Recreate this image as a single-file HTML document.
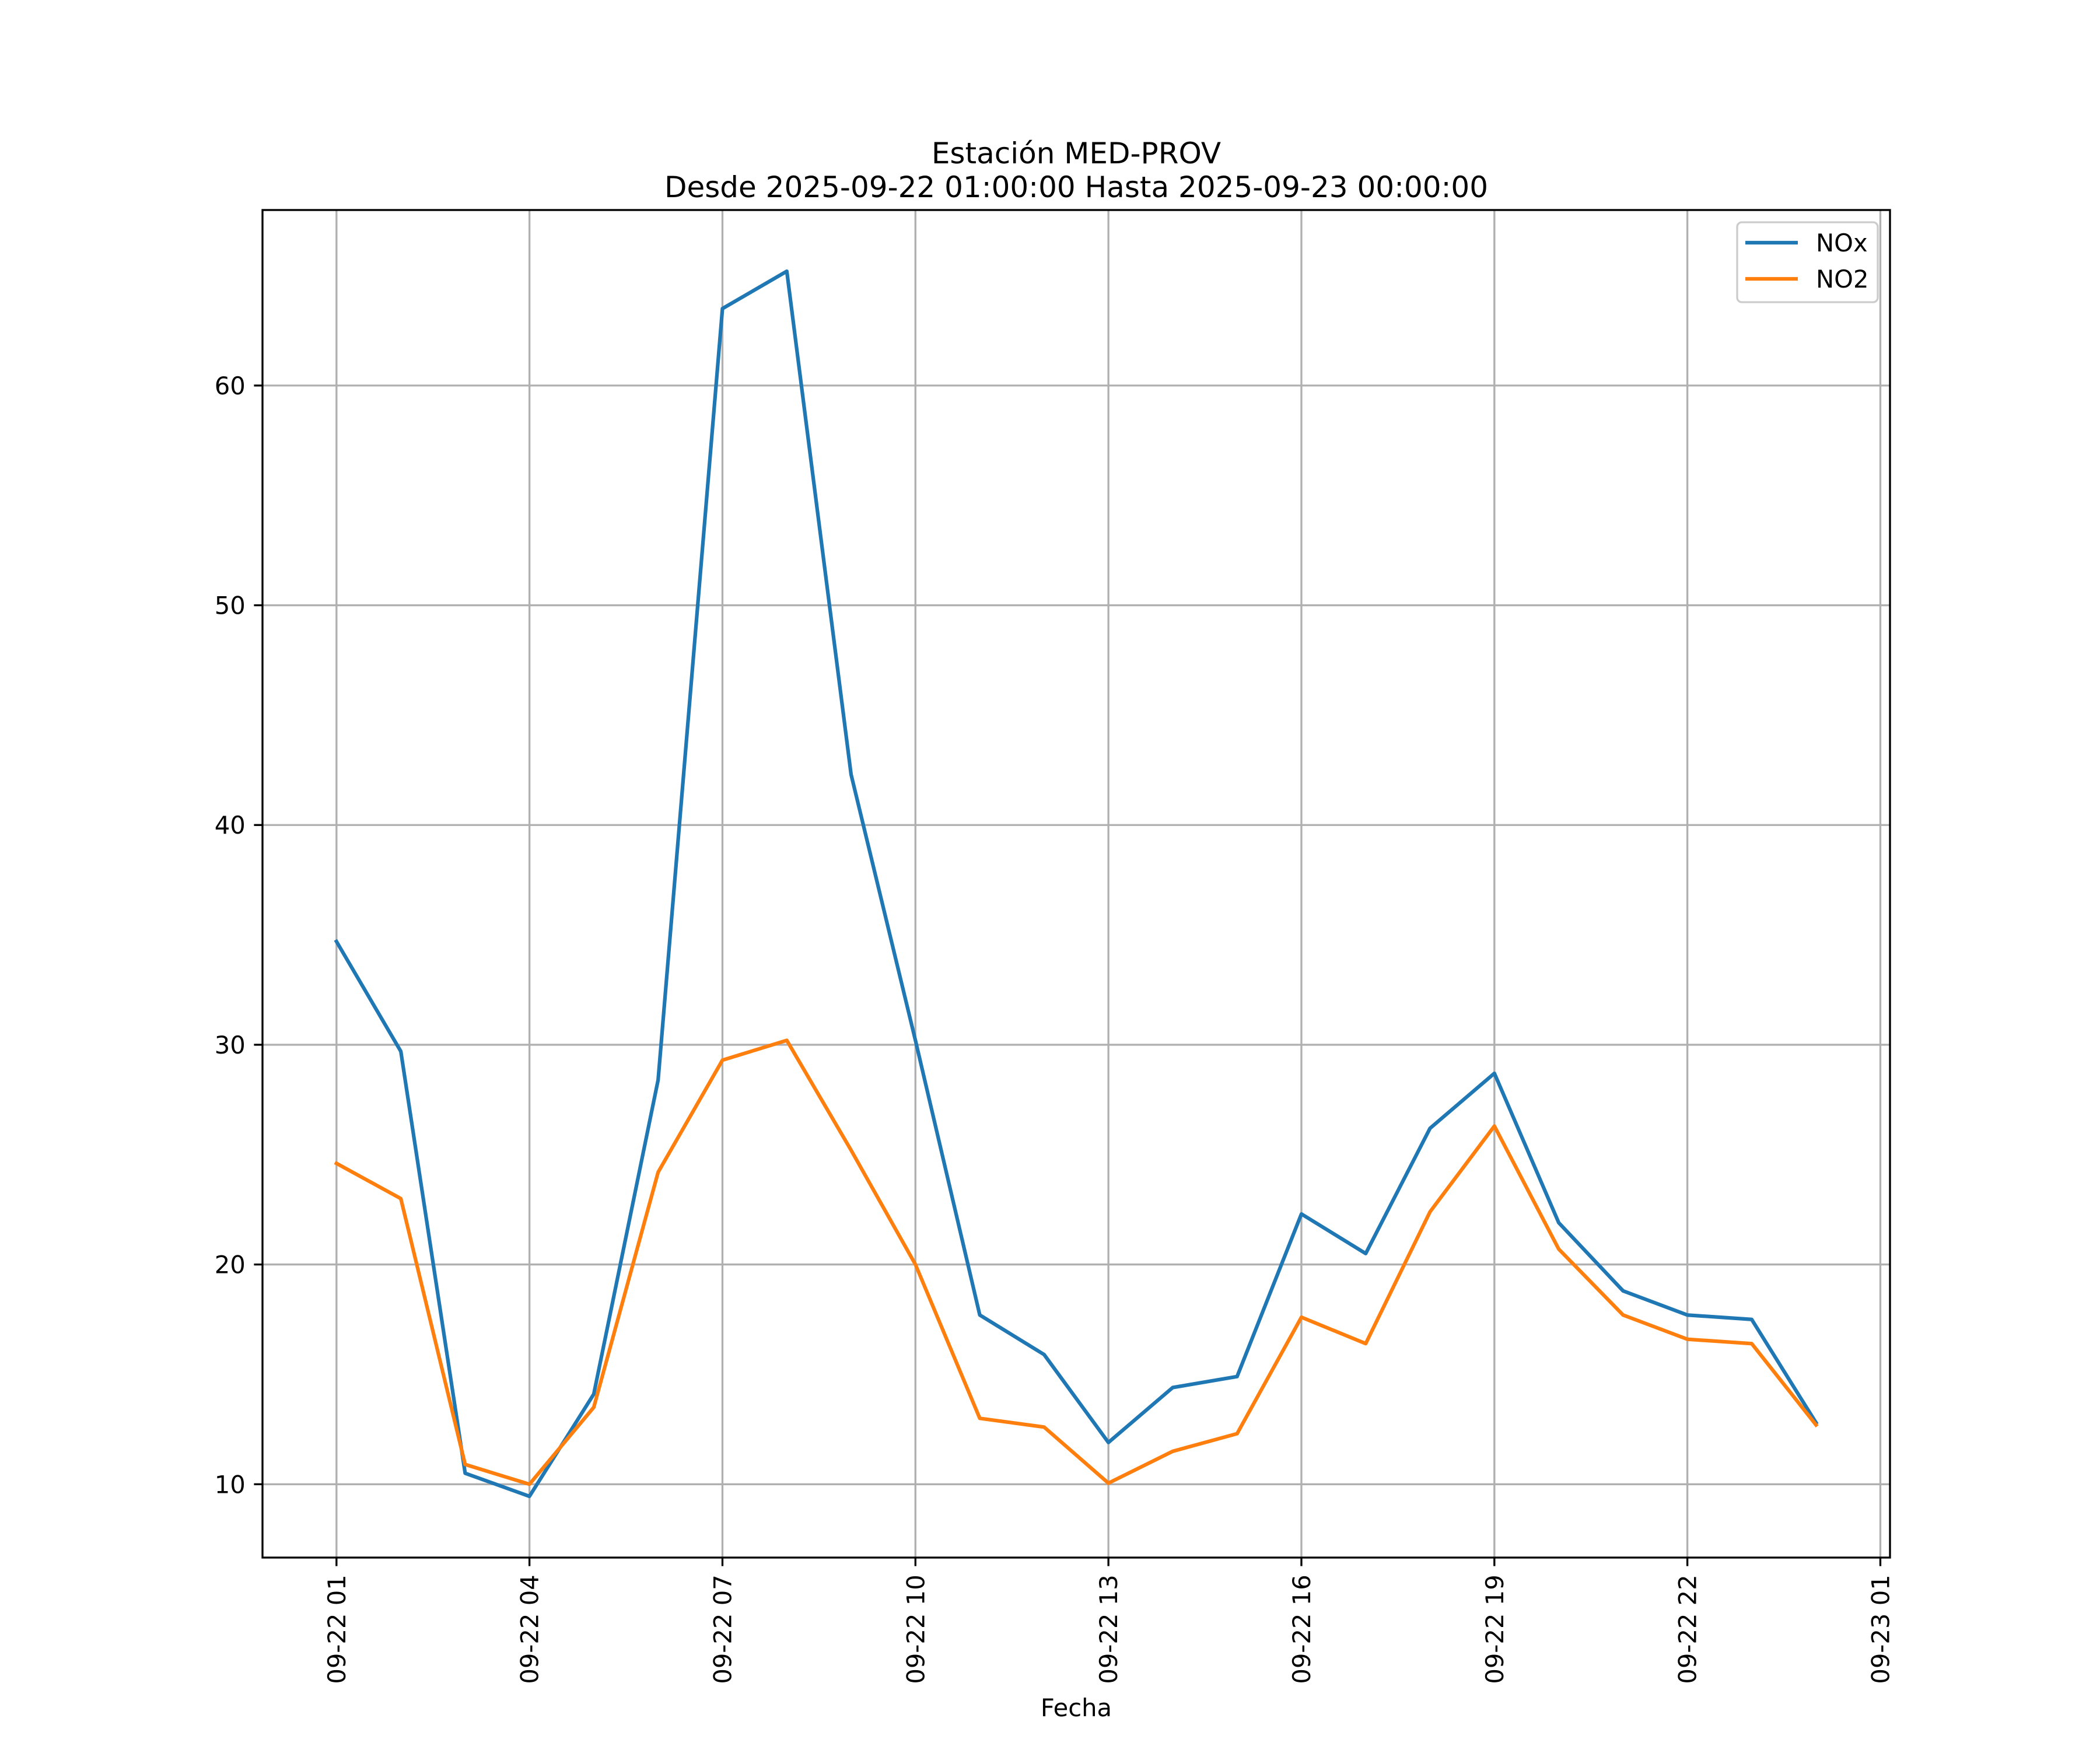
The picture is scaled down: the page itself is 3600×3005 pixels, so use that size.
<!DOCTYPE html>
<html><head><meta charset="utf-8"><style>
html,body{margin:0;padding:0;background:#fff;}
svg text{font-family:"DejaVu Sans","Liberation Sans",sans-serif;fill:#000;}
</style></head><body>
<svg id="chart" xmlns="http://www.w3.org/2000/svg" width="3600" height="3000" viewBox="0 0 3600 3000">
<rect width="3600" height="3000" fill="#fff"/>
<g id="grid"></g>
<g id="series"></g>
<rect x="450" y="360" width="2790" height="2310" fill="none" stroke="#000" stroke-width="3.33"/>
<g id="ticks"></g>
<text x="1845" y="280" font-size="50" text-anchor="middle">Estación MED-PROV</text>
<text x="1845" y="338" font-size="50" text-anchor="middle">Desde 2025-09-22 01:00:00 Hasta 2025-09-23 00:00:00</text>
<text x="1845" y="2942" font-size="41.7" text-anchor="middle">Fecha</text>
<g>
<rect x="2978" y="381" width="241" height="137" rx="8" fill="#fff" fill-opacity="0.8" stroke="#cccccc" stroke-width="3.33"/>
<line x1="2992" y1="416" x2="3082" y2="416" stroke="#1f77b4" stroke-width="6.25"/>
<text x="3113" y="431" font-size="41.7">NOx</text>
<line x1="2992" y1="478" x2="3082" y2="478" stroke="#ff7f0e" stroke-width="6.25"/>
<text x="3113" y="493" font-size="41.7">NO2</text>
</g>
</svg>
<script>
const hours = [0,1,2,3,4,5,6,7,8,9,10,11,12,13,14,15,16,17,18,19,20,21,22,23];
const noxValues = [34.7,29.7,10.5,9.45,14.1,28.4,63.5,65.2,42.3,30.2,17.7,15.9,11.9,14.4,14.9,22.3,20.5,26.2,28.7,21.9,18.8,17.7,17.5,12.8];
const no2Values = [24.6,23.0,10.9,10.0,13.5,24.2,29.3,30.2,25.2,20.0,13.0,12.6,10.05,11.5,12.3,17.6,16.4,22.4,26.3,20.7,17.7,16.6,16.4,12.7];
const xTickHours = [0,3,6,9,12,15,18,21,24];
const xTickLabels = ["09-22 01","09-22 04","09-22 07","09-22 10","09-22 13","09-22 16","09-22 19","09-22 22","09-23 01"];
const yTickValues = [10,20,30,40,50,60];

const NS="http://www.w3.org/2000/svg";
const L=450,R=3240,T=360,B=2670;
const all=noxValues.concat(no2Values);
const ymin=Math.min(...all), ymax=Math.max(...all), yr=ymax-ymin;
const y0=ymin-0.05*yr, y1=ymax+0.05*yr;
const xr=hours[hours.length-1]-hours[0];
const x0=hours[0]-0.05*xr, x1=hours[hours.length-1]+0.05*xr;
function sx(h){return L+(h-x0)/(x1-x0)*(R-L);}
function sy(v){return B-(v-y0)/(y1-y0)*(B-T);}
function mk(tag,attrs,parent){const e=document.createElementNS(NS,tag);for(const k in attrs)e.setAttribute(k,attrs[k]);parent.appendChild(e);return e;}
const grid=document.getElementById('grid'),ticks=document.getElementById('ticks'),series=document.getElementById('series');
xTickHours.forEach((h,i)=>{
  const x=sx(h);
  const g=mk('line',{x1:x,y1:T,x2:x,y2:B,stroke:'#b0b0b0','stroke-width':3.33},grid);
  
  
  const t=mk('line',{x1:x,y1:B,x2:x,y2:B+14.6,stroke:'#000','stroke-width':3.33},ticks);
  
  
  const lb=mk('text',{x:0,y:0,'font-size':41.7,'text-anchor':'end',transform:`translate(${x+15},${B+29.2}) rotate(-90)`},ticks);
  lb.textContent=xTickLabels[i];
  
  
});
yTickValues.forEach(v=>{
  const y=sy(v);
  const g=mk('line',{x1:L,y1:y,x2:R,y2:y,stroke:'#b0b0b0','stroke-width':3.33},grid);
  
  
  const t=mk('line',{x1:L-14.6,y1:y,x2:L,y2:y,stroke:'#000','stroke-width':3.33},ticks);
  
  
  const lb=mk('text',{x:L-29.2,y:y+15,'font-size':41.7,'text-anchor':'end'},ticks);
  lb.textContent=String(v);
  
  
});
function line(vals,color,name){
  const pts=hours.map((h,i)=>sx(h).toFixed(1)+','+sy(vals[i]).toFixed(1)).join(' ');
  const p=mk('polyline',{points:pts,fill:'none',stroke:color,'stroke-width':6.25,'stroke-linejoin':'round','stroke-linecap':'square'},series);
  
  
}
line(noxValues,'#1f77b4','nox-line');
line(no2Values,'#ff7f0e','no2-line');
</script>
</body></html>
